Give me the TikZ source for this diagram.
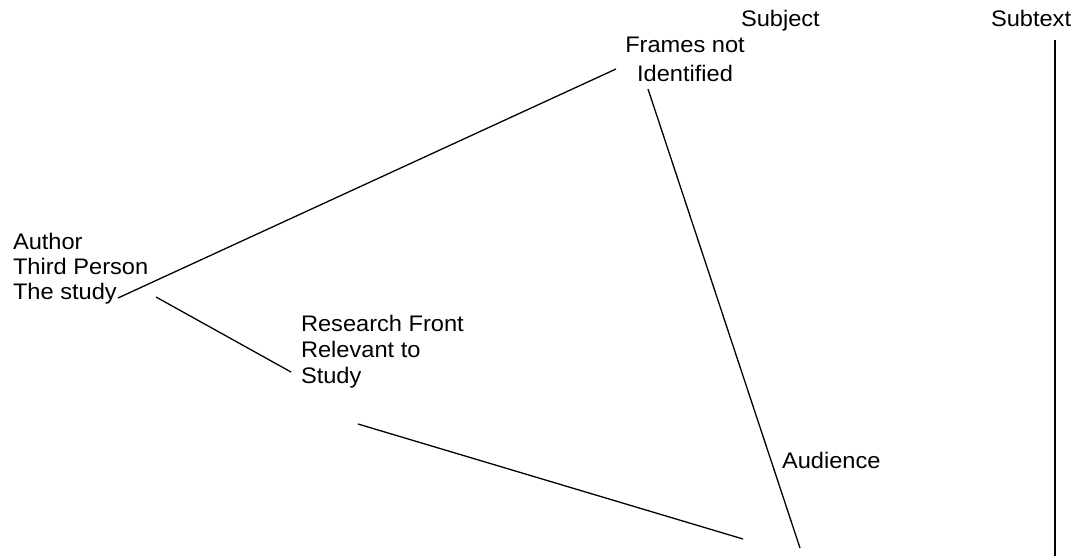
\documentclass[tikz,border=0pt]{standalone}
\usepackage{fontspec}
\setmainfont[FakeStretch=1.05]{Liberation Sans}
\newcommand{\stkl}[1]{\begin{tabular}[t]{@{}l@{}}#1\end{tabular}}
\newcommand{\stkc}[1]{\begin{tabular}[t]{@{}c@{}}#1\end{tabular}}
\begin{document}
\begin{tikzpicture}[x=1pt,y=-1pt,
  lbl/.style={inner sep=0pt,outer sep=0pt,font=\fontsize{22.5}{25.5}\selectfont},
  link/.style={line width=1.3pt,black}]
\useasboundingbox (0,0) rectangle (1076,556);
% texts
\node[lbl,anchor=base west] (subject) at (741,27) {Subject};
\node[lbl,anchor=base west] (subtext) at (991,27) {Subtext};
\node[lbl,anchor=base] (frames) at (685,53) {\stkc{Frames not\\[3pt] Identified}};
\node[lbl,anchor=base west] (author) at (13,249) {\stkl{Author\\Third Person\\The study}};
\node[lbl,anchor=base west] (research) at (301,331) {\stkl{Research Front\\[0.5pt] Relevant to\\[0.5pt] Study}};
\node[lbl,anchor=base west] (audience) at (782,468) {Audience};
% connector end points
\coordinate (a1) at (118,298);
\coordinate (f1) at (616,69);
\coordinate (f2) at (648,89);
\coordinate (b1) at (800,548);
\coordinate (a2) at (156,297);
\coordinate (r1) at (291,372);
\coordinate (r2) at (358,424);
\coordinate (b2) at (743,539);
\coordinate (s1) at (1055,40);
\coordinate (s2) at (1055,556);
% connectors
\draw[link] (a1) -- (f1);
\draw[link] (f2) -- (b1);
\draw[link] (a2) -- (r1);
\draw[link] (r2) -- (b2);
\draw[link] (s1) -- (s2);
\end{tikzpicture}
\end{document}
